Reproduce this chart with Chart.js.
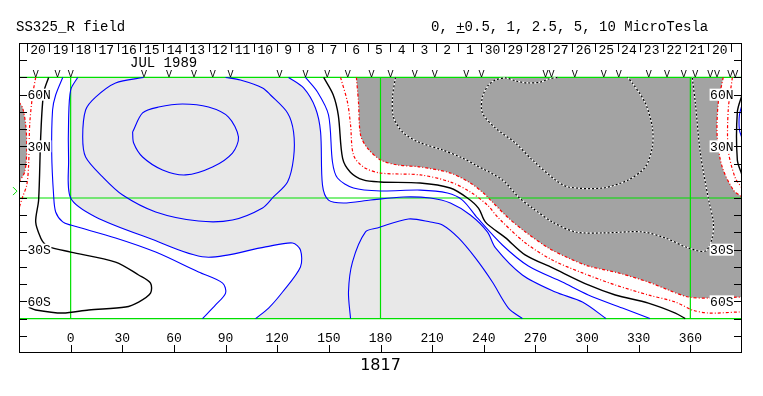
<!DOCTYPE html>
<html>
<head>
<meta charset="utf-8">
<script src="https://cdn.jsdelivr.net/npm/chart.js@4.4.0/dist/chart.umd.min.js"></script>
<style>
  html, body { margin: 0; padding: 0; background: #fff; }
  canvas { display: block; }
</style>
</head>
<body>
<canvas id="mapa" width="763" height="396"></canvas>
<script>
// textos
const textoTitulo = 'SS325_R field';
const textoUnidades = '0, +0.5, 1, 2.5, 5, 10 MicroTesla';
const textoMes = 'JUL 1989';
const mesLon = 54;
const rotacion = '1817';

// ejes
const lonTicks = [0, 30, 60, 90, 120, 150, 180, 210, 240, 270, 300, 330, 360];
const latTicks = [-80, -70, -60, -50, -40, -30, -20, -10, 0, 10, 20, 30, 40, 50, 60, 70, 80];
const latLabelVals = [60, 30, -30, -60];
const latLabelText = ['60N', '30N', '30S', '60S'];
const dayLabels = ['20','19','18','17','16','15','14','13','12','11','10','9','8','7','6','5','4','3','2','1',
                   '30','29','28','27','26','25','24','23','22','21','20'];
const dayStart = -25.5;
const dayStep = 13.2;
const gridLons = [0, 180, 360];
const gridLats = [70, 0, -70];
const markerLat = 4;
const vLons = [-20.3, -7.7, 0, 42.6, 57.1, 71.6, 82.6, 92.9, 121.4, 136.5, 149, 161, 174.8, 185.8, 199.9,
               211.5, 229.8, 238.6, 275.8, 279.3, 292.8, 309.7, 318.4, 335.8, 346.5, 356.1, 362.9, 371.6,
               375.5, 383.2, 386.1];

// contornos [lon, lat]
const neutralEast = [[147,70],[152.5,60],[155.5,48],[158,23],[162.5,15],[170,10.5],[180,9.3],[203,8.7],[220.5,5.8],
  [230.5,0],[237,-6],[241,-14],[252.5,-23],[264,-33],[280,-40.6],[300.7,-50.5],[316.4,-56.3],[335.6,-61],[351.3,-66.8],[357,-70]];
const neutralWest = [[-12.8,70],[-15.7,61],[-17.4,35.4],[-18.6,-1.2],[-20.3,-13.9],[-17.4,-23.2],[-15.1,-26.7],[-12.8,-28.4],
  [0,-31.4],[26.1,-37.2],[39.5,-44.7],[46.4,-49.4],[46.4,-55.2],[39.5,-60.4],[31.9,-63.3],[10.5,-65],[-4.6,-66.8],[-20.3,-65],[-24.4,-63.3]];
const neutralRight = [[390,59.8],[387.3,50],[387.3,22],[390,13.4]];

const pos05West = [[-4.6,70],[-8.7,59.8],[-10.5,51.1],[-11,26.1],[-9.9,1.7],[-8.7,-8.1],[-4.6,-13.9],[0,-15.7],[26.1,-23.2],
  [49.4,-31.4],[74.3,-43],[88.3,-49.4],[90,-55.2],[84.2,-62.1],[76.6,-70]];
const pos05East = [[136.4,70],[143.4,61.5],[149.8,48.2],[152.1,20.9],[155,11.6],[164.3,5.8],[180,4.1],[203.2,4.6],[218.9,2.9],
  [227.6,-1.2],[236.3,-11.6],[250.8,-27.3],[265.9,-39.5],[285.6,-48.8],[300.7,-56.3],[320.5,-63.9],[336.5,-70]];
const pos1West = [[4.1,70],[0,62.7],[-1.2,45.3],[-1.2,22.1],[0,0],[14.5,-11],[45.3,-23.2],[78.4,-34.3],[113.2,-28.4],
  [128.9,-26.1],[133.5,-30.2],[133.5,-40.1],[123.1,-54.6],[115,-63.9],[107.4,-70]];
const pos1East = [[126.6,70],[135.3,63.9],[142.2,52.3],[145.2,38.3],[146.3,7.5],[149.8,-1.2],[158.5,-2.9],[174.2,-1.2],
  [193.3,0.6],[209,0],[220.6,-2.9],[232.2,-9.9],[242.1,-19.7],[246.8,-29],[262.4,-44.7],[281.6,-54.6],[297.3,-60.4],[311,-70]];
const pos25North = [[42.4,70],[26.1,66.8],[14.5,58.6],[8.7,51.1],[7,35.4],[8.7,23.8],[18.6,12.2],[30.2,1.7],[49.4,-8.1],
  [74.3,-13.4],[94,-12.8],[111.5,-5.8],[117.8,0.6],[126,9.3],[129.5,23.2],[129.5,38.3],[126,49.4],[116.1,59.8],[111.5,63.9],[98.6,68.5],[90,70]];
const pos25South = [[162.6,-70],[161.4,-54.6],[163.7,-37.2],[171.3,-19.7],[178.2,-17.4],[196.2,-12.2],[209,-13.9],[216,-15.7],
  [225.3,-23.2],[235.1,-34.8],[245,-48.8],[254.3,-63.9],[262.4,-70]];
const pos5 = [[36,38.3],[41.8,49.4],[51.1,52.8],[65,54.6],[80.1,52.8],[91.7,47],[97.5,35.4],[94,26.1],[82.4,18],[66.8,13.4],
  [53.4,16.3],[41.8,23.8],[36.6,31.9],[36,38.3]];
const posRight = [[390,54],[388.5,48.2],[388.5,39.5],[390,34.8]];

const neg05East = [[156.8,70],[160.8,55.7],[162.6,42.4],[164.3,25],[170.1,18],[180,14.5],[203.2,13.4],[220.6,9.3],[232.2,3.5],
  [242.1,-4.1],[248.5,-11.6],[264.2,-26.1],[279.8,-36],[297.3,-43.5],[316.4,-50.5],[335.6,-56.3],[351.3,-60.4],[361.1,-65],
  [370.4,-66.8],[387.9,-66.2],[390,-66.2]];
const neg05West = [[-20.3,70],[-22.1,59.8],[-23.8,42.4],[-24.4,19.2],[-25.5,7.5],[-27.9,0.6],[-30,-6]];
const neg05Right = [[384.4,70],[382,51.1],[382,27.9],[386.1,11.6],[390,5.8]];
const neg1East = [[166,70],[167.2,55.7],[168.4,36.6],[172.4,29],[180,22.1],[189.8,19.2],[203.2,18],[220.6,14.5],[232.2,8.7],
  [239.8,2.9],[243.9,-1.2],[254.3,-11.6],[264.2,-19.7],[277.5,-29],[289.1,-34.8],[300.7,-39.5],[318.2,-43.5],[335.6,-48.8],
  [347.2,-53.4],[358.8,-57.5],[370.4,-58.1],[390,-57.5]];
const neg1Right = [[379.1,70],[376.2,55.2],[375.6,35.4],[378.5,18],[385,4.6],[390,0.6]];
const neg1West = [[-30,55.7],[-27.9,52.3],[-26.1,42.4],[-25.5,27.9],[-26.7,15.1],[-30,9.3]];
const neg25 = [[188.7,70],[187,58.6],[187.5,47],[192.8,38.3],[202,32.5],[216,27.9],[227.6,23.2],[235.1,19.2],[250.8,10.5],
  [260.1,0.6],[268.2,-5.8],[279.8,-13.9],[293.2,-19.7],[308.9,-20.3],[332.1,-19.7],[345.4,-23.2],[358.8,-29],[368.7,-30.8],
  [372.7,-23.2],[373.3,-13.9],[370.4,0],[365.8,26.1],[362.9,55.2],[361.1,70]];
const neg5 = [[282.8,70],[277.5,69.1],[272.9,67.3],[265.9,66.8],[258.4,68],[252.6,69.7],[246.8,68.5],[242.7,65.6],[239.2,58.6],
  [239.2,49.4],[246.8,40.6],[258.4,31.9],[268.2,22.1],[281.6,10.5],[289.1,6.4],[308.9,5.8],[324,10.5],[333.8,18],[337.9,29.6],
  [337.9,41.2],[333.8,55.2],[326.3,66.8],[323.4,70]];

const AZUL = '#0000ff', ROJO = '#ff0000', VERDE = '#00e000';
const GRIS_CLARO = '#e8e8e8', GRIS_OSCURO = '#a3a3a3';

const aXY = pts => pts.map(([x, y]) => ({x, y}));

// une tramos repitiendo sus extremos para que las esquinas queden rectas
function poligono(...tramos) {
    const out = [];
    tramos.forEach(t => { out.push(t[0], ...t, t[t.length - 1]); });
    out.push(out[0], out[0]);
    return out;
}

function linea(pts, color, ancho, dash, order) {
    return { data: aXY(pts), showLine: true, borderColor: color, borderWidth: ancho, borderDash: dash || [],
             pointRadius: 0, fill: false, tension: 0.3, order };
}

function relleno(pts, color, order) {
    return { data: aXY(pts), showLine: true, borderColor: 'transparent', borderWidth: 0, backgroundColor: color,
             pointRadius: 0, fill: 'shape', tension: 0.3, order };
}

const trazoRojo = [3, 2, 1, 2];
const datasets = [
    relleno(poligono(pos1East, pos1West.slice().reverse()), GRIS_CLARO, 30),
    relleno(poligono(neg1East, neg1Right.slice().reverse()), GRIS_OSCURO, 29),
    relleno(poligono(neg1West), GRIS_OSCURO, 29),
    ...gridLons.map(v => linea([[v, -70], [v, 70]], VERDE, 1.2, null, 20)),
    ...gridLats.map(v => linea([[-30, v], [390, v]], VERDE, 1.2, null, 20)),
    linea(pos05West, AZUL, 1.1, null, 5),
    linea(pos05East, AZUL, 1.1, null, 5),
    linea(pos1West, AZUL, 1.1, null, 5),
    linea(pos1East, AZUL, 1.1, null, 5),
    linea(pos25North, AZUL, 1.1, null, 5),
    linea(pos25South, AZUL, 1.1, null, 5),
    linea(pos5, AZUL, 1.1, null, 5),
    linea(posRight, AZUL, 1.1, null, 5),
    linea(neutralEast, '#000', 1.4, null, 4),
    linea(neutralWest, '#000', 1.4, null, 4),
    linea(neutralRight, '#000', 1.4, null, 4),
    linea(neg05East, ROJO, 1.2, trazoRojo, 4),
    linea(neg05West, ROJO, 1.2, trazoRojo, 4),
    linea(neg05Right, ROJO, 1.2, trazoRojo, 4),
    linea(neg1East, ROJO, 1.2, trazoRojo, 4),
    linea(neg1Right, ROJO, 1.2, trazoRojo, 4),
    linea(neg1West, ROJO, 1.2, trazoRojo, 4),
    linea(neg25, '#fff', 1.2, null, 3),
    linea(neg5, '#fff', 1.2, null, 3),
    linea(neg25, '#000', 1.2, [2, 2], 2),
    linea(neg5, '#000', 1.2, [2, 2], 2)
];

const marco = {
    id: 'marco',
    afterDraw(chart) {
        const {ctx, chartArea: a, scales: {x, y}} = chart;
        const px = v => Math.round(x.getPixelForValue(v)) + 0.5;
        const py = v => Math.round(y.getPixelForValue(v)) + 0.5;
        const mono = s => s + 'px "Liberation Mono", monospace';
        ctx.save();

        ctx.strokeStyle = '#000';
        ctx.lineWidth = 1;
        ctx.strokeRect(a.left + 0.5, a.top + 0.5, a.right - a.left - 1, a.bottom - a.top - 1);
        ctx.beginPath();
        latTicks.forEach(v => {
            const yy = py(v);
            ctx.moveTo(a.left, yy); ctx.lineTo(a.left + 8, yy);
            ctx.moveTo(a.right, yy); ctx.lineTo(a.right - 8, yy);
        });
        lonTicks.forEach(v => {
            const xx = px(v);
            ctx.moveTo(xx, a.bottom); ctx.lineTo(xx, a.bottom - 8);
        });
        for (let i = 0; i <= dayLabels.length; i++) {
            const xx = px(dayStart + i * dayStep);
            ctx.moveTo(xx, a.top); ctx.lineTo(xx, a.top + 9);
        }
        ctx.stroke();

        // marcador de B0
        const ym = y.getPixelForValue(markerLat);
        ctx.strokeStyle = VERDE;
        ctx.beginPath();
        ctx.moveTo(a.left - 6, ym - 4); ctx.lineTo(a.left - 2, ym); ctx.lineTo(a.left - 6, ym + 4);
        ctx.stroke();

        ctx.fillStyle = '#000';
        ctx.textBaseline = 'middle';
        ctx.textAlign = 'center';
        ctx.font = mono(13);
        dayLabels.forEach((d, i) => {
            ctx.fillText(d, x.getPixelForValue(dayStart + (i + 0.5) * dayStep), a.top + 8);
        });
        lonTicks.forEach(v => ctx.fillText(String(v), x.getPixelForValue(v), a.bottom - 14.5));

        ctx.font = mono(14);
        ctx.fillText(textoMes, x.getPixelForValue(mesLon), a.top + 20);

        // marcas V
        ctx.font = mono(10);
        ctx.textBaseline = 'alphabetic';
        vLons.forEach(v => ctx.fillText('V', x.getPixelForValue(v), y.getPixelForValue(70) - 0.5));

        // etiquetas de latitud
        ctx.font = mono(13);
        ctx.textBaseline = 'middle';
        latLabelVals.forEach((v, i) => {
            const t = latLabelText[i];
            const w = ctx.measureText(t).width;
            const yy = y.getPixelForValue(v);
            ctx.fillStyle = '#fff';
            ctx.fillRect(a.left + 8, yy - 6, w + 1, 12);
            ctx.fillRect(a.right - 9 - w, yy - 6, w + 1, 12);
            ctx.fillStyle = '#000';
            ctx.textAlign = 'left';
            ctx.fillText(t, a.left + 8.5, yy + 1);
            ctx.textAlign = 'right';
            ctx.fillText(t, a.right - 8.5, yy + 1);
        });

        // titulos
        ctx.font = mono(14);
        ctx.textAlign = 'left';
        ctx.fillText(textoTitulo, 16, 27);
        const xu = 431;
        ctx.fillText(textoUnidades, xu, 27);
        const w0 = ctx.measureText(textoUnidades.slice(0, 3)).width;
        const wp = ctx.measureText('+').width;
        ctx.fillRect(xu + w0, 32, wp, 1);

        ctx.font = '16px "DejaVu Sans", sans-serif';
        ctx.textAlign = 'center';
        ctx.fillText(rotacion, x.getPixelForValue(180), 366);
        ctx.restore();
    }
};

new Chart(document.getElementById('mapa'), {
    type: 'scatter',
    data: { datasets },
    options: {
        responsive: false,
        animation: false,
        events: [],
        layout: { padding: { left: 19, right: 21, top: 43, bottom: 43 } },
        scales: {
            x: { type: 'linear', min: -30, max: 390, display: false },
            y: { type: 'linear', min: -90, max: 90, display: false }
        },
        plugins: { legend: { display: false }, tooltip: { enabled: false } }
    },
    plugins: [marco]
});
</script>
</body>
</html>
